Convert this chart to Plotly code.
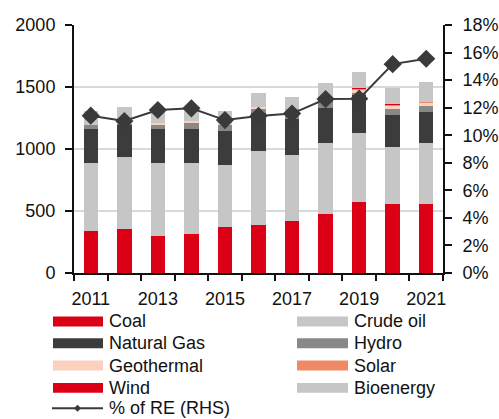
import plotly.graph_objects as go

# Energy supply by source (MBOE), stacked, with renewable share on the right axis
years = [2011, 2012, 2013, 2014, 2015, 2016, 2017, 2018, 2019, 2020, 2021]
coal = [336, 352, 301, 318, 368, 384, 416, 478, 575, 556, 556]
crude_oil = [555, 587, 590, 573, 507, 603, 539, 571, 557, 463, 493]
natural_gas = [271, 255, 271, 271, 273, 301, 286, 284, 303, 253, 252]
hydro = [32, 11, 32, 50, 46, 40, 51, 48, 18, 48, 48]
geothermal = [2, 7, 18, 16, 18, 12, 28, 5, 30, 32, 26]
solar = [0, 0, 0, 0, 0, 1, 1, 1, 6, 8, 6]
wind = [0, 0, 0, 0, 0, 0, 0, 1, 1, 1, 1]
bioenergy = [110, 126, 110, 113, 94, 108, 95, 141, 132, 133, 160]
re_share = [11.42, 11.03, 11.83, 11.95, 11.10, 11.40, 11.57, 12.62, 12.65, 15.16, 15.55]

year_labels = ["2011", "2013", "2015", "2017", "2019", "2021"]
left_ticks = [0, 500, 1000, 1500, 2000]
right_ticks = [0, 2, 4, 6, 8, 10, 12, 14, 16, 18]

series = [
    ("Coal", coal, "#DC0016"),
    ("Crude oil", crude_oil, "#C6C6C6"),
    ("Natural Gas", natural_gas, "#3C3C3C"),
    ("Hydro", hydro, "#888888"),
    ("Geothermal", geothermal, "#FBD0BE"),
    ("Solar", solar, "#F08A64"),
    ("Wind", wind, "#DC0016"),
    ("Bioenergy", bioenergy, "#C6C6C6"),
]
line_name = "% of RE (RHS)"
line_color = "#3A3A3A"

FONT = "Liberation Sans, Arial, sans-serif"
FS = 18
W, H = 499, 419
ML, MR, MT, MB = 74, 56, 25, 145.5
PW, PH = W - ML - MR, H - MT - MB

fig = go.Figure()
for name, vals, color in series:
    fig.add_trace(go.Bar(x=years, y=vals, name=name, marker=dict(color=color, line=dict(width=0)),
                         width=0.43, showlegend=False))

fig.add_trace(go.Scatter(x=years, y=re_share, name=line_name, yaxis="y2", mode="lines+markers",
                         line=dict(color=line_color, width=2),
                         marker=dict(symbol="diamond", size=14, color=line_color),
                         showlegend=False))


def px(xp):
    return (xp - ML) / PW


def py(yp):
    return (H - MB - yp) / PH


shapes = []
annotations = []
row_y = [322, 344, 366.3, 388.6]
col_sym = [(53, 103), (297, 348)]
col_txt = [107, 352]
for i, (name, vals, color) in enumerate(series):
    r, c = divmod(i, 2)
    y0 = row_y[r]
    shapes.append(dict(type="rect", xref="paper", yref="paper", x0=px(col_sym[c][0]), x1=px(col_sym[c][1]),
                       y0=py(y0 + 5), y1=py(y0 - 5), fillcolor=color, line=dict(width=0), layer="above"))
    annotations.append(dict(xref="paper", yref="paper", x=px(col_txt[c]), y=py(y0), text=name,
                            showarrow=False, xanchor="left", yanchor="middle",
                            font=dict(family=FONT, size=FS, color="#111111")))

# line series legend entry
ly = 409
shapes.append(dict(type="line", xref="paper", yref="paper", x0=px(52), x1=px(103), y0=py(ly), y1=py(ly),
                   line=dict(color=line_color, width=2)))
d = 3.5
cx = 77.5
shapes.append(dict(type="path", xref="paper", yref="paper",
                   path=f"M {px(cx - d)} {py(ly)} L {px(cx)} {py(ly - d)} L {px(cx + d)} {py(ly)} L {px(cx)} {py(ly + d)} Z",
                   fillcolor=line_color, line=dict(width=0)))
annotations.append(dict(xref="paper", yref="paper", x=px(107), y=py(ly), text=line_name,
                        showarrow=False, xanchor="left", yanchor="middle",
                        font=dict(family=FONT, size=FS, color="#111111")))

boundaries = [y - 0.5 for y in years] + [years[-1] + 0.5]

fig.update_layout(
    width=W, height=H,
    margin=dict(l=ML, r=MR, t=MT, b=MB, autoexpand=False),
    paper_bgcolor="white", plot_bgcolor="white",
    barmode="stack",
    font=dict(family=FONT, size=FS, color="#111111"),
    shapes=shapes, annotations=annotations,
    xaxis=dict(range=[years[0] - 0.5, years[-1] + 0.5], tickvals=[int(t) for t in year_labels],
               ticktext=year_labels, ticks="", showgrid=False, zeroline=False,
               showline=True, linecolor="#111111", linewidth=2, tickfont=dict(size=FS),
               ticklabelstandoff=8,
               minor=dict(tickvals=boundaries, ticks="outside", ticklen=6, tickwidth=2, tickcolor="#111111",
                          showgrid=False)),
    yaxis=dict(range=[0, 2000], tickvals=left_ticks, ticks="outside", ticklen=7, tickwidth=2,
               tickcolor="#111111", showline=True, linecolor="#111111", linewidth=2,
               ticklabelstandoff=6,
               showgrid=True, gridcolor="#D9D9D9", gridwidth=2, zeroline=False, tickfont=dict(size=FS)),
    yaxis2=dict(range=[0, 18], tickvals=right_ticks, ticktext=[f"{v}%" for v in right_ticks],
                overlaying="y", side="right", ticks="outside", ticklen=7, tickwidth=2,
                tickcolor="#111111", showline=True, linecolor="#111111", linewidth=2,
                ticklabelstandoff=7,
                showgrid=False, zeroline=False, tickfont=dict(size=FS)),
)

fig.write_html("out.html")
